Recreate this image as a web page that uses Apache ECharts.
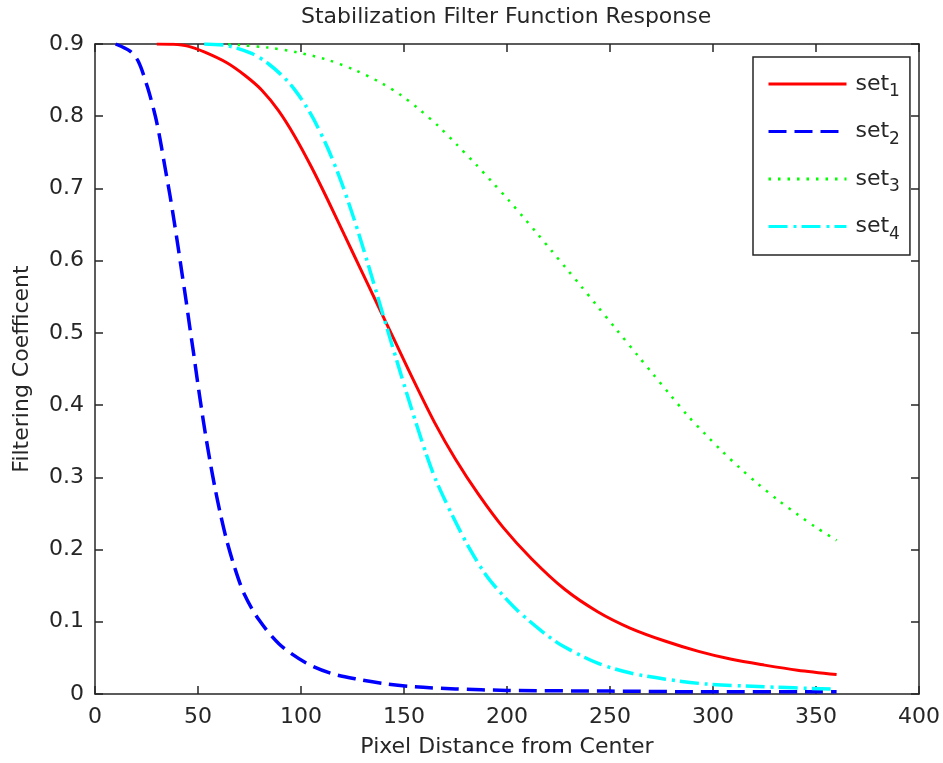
<!DOCTYPE html>
<html>
<head>
<meta charset="utf-8">
<title>Stabilization Filter Function Response</title>
<script src="https://cdn.jsdelivr.net/npm/echarts@6/dist/echarts.min.js"></script>
<style>
  html, body { margin: 0; padding: 0; background: #fff; }
  #chart { width: 943px; height: 763px; }
</style>
</head>
<body>
<div id="chart"></div>
<script>
// values
var set1X = [30, 38, 45, 53, 64, 73, 81, 89, 97, 105, 113, 121, 129, 137, 145, 154, 165, 175, 186, 198, 212, 228, 244, 260, 277, 293, 309, 325, 341, 360]
var set1Y = [0.9, 0.8995, 0.897, 0.889, 0.874, 0.856, 0.836, 0.808, 0.772, 0.73, 0.684, 0.636, 0.588, 0.54, 0.492, 0.438, 0.375, 0.325, 0.277, 0.231, 0.187, 0.145, 0.114, 0.091, 0.073, 0.059, 0.048, 0.04, 0.033, 0.027]

var set2X = [10, 17, 21, 25.5, 29.3, 31.6, 34, 36.3, 38.4, 40.6, 42.4, 44.2, 46, 47.9, 49.7, 51.6, 53.6, 55.8, 58.2, 60.9, 64, 67.8, 72.5, 79.5, 89.5, 102.5, 115.3, 128.3, 141.2, 154.9, 175, 200, 250, 300, 360]
var set2Y = [0.9, 0.89, 0.876, 0.84, 0.8, 0.768, 0.729, 0.692, 0.655, 0.614, 0.579, 0.545, 0.508, 0.471, 0.434, 0.397, 0.36, 0.323, 0.286, 0.249, 0.212, 0.175, 0.138, 0.103, 0.069, 0.043, 0.028, 0.02, 0.014, 0.01, 0.007, 0.005, 0.004, 0.003, 0.003]

var set3X = [60, 70, 84, 98, 113, 126, 139, 148.6, 157, 167, 175.7, 185, 192.6, 201, 208, 215, 221.7, 229, 236, 243, 253, 263.8, 271, 279, 288, 296, 304, 313, 322, 331.6, 341, 350, 360]
var set3Y = [0.9, 0.8985, 0.895, 0.8885, 0.878, 0.864, 0.846, 0.829, 0.8105, 0.7855, 0.7605, 0.733, 0.7095, 0.683, 0.66, 0.6365, 0.6135, 0.5885, 0.5645, 0.54, 0.505, 0.4675, 0.4425, 0.415, 0.3845, 0.3605, 0.3373, 0.313, 0.2905, 0.2684, 0.2487, 0.2307, 0.2127]

var set4X = [53, 64, 76, 84, 92, 97, 102, 106.5, 113, 119.5, 126, 132, 137, 142, 146.5, 154, 160.7, 165.5, 173, 181.5, 189.7, 196, 205.7, 220, 228, 244, 260, 277, 296, 325, 358]
var set4Y = [0.9, 0.8978, 0.887, 0.873, 0.853, 0.8365, 0.816, 0.794, 0.7556, 0.7095, 0.6555, 0.6003, 0.5523, 0.5043, 0.4616, 0.3918, 0.3329, 0.296, 0.25, 0.203, 0.165, 0.143, 0.114, 0.08, 0.065, 0.0426, 0.029, 0.0205, 0.014, 0.01, 0.0067]

var seriesNames = ['set1', 'set2', 'set3', 'set4']

var FONT = 'DejaVu Sans'
var INK = '#262626'

function pairs (xs, ys) {
  return xs.map(function (x, i) { return [x, ys[i]] })
}

function boxAxis (pos, isX) {
  // extra axis only for the ticks on the top / right side of the box
  var ax = {
    type: 'value',
    position: pos,
    axisLine: { show: true, onZero: false, lineStyle: { color: INK, width: 1.5 } },
    axisTick: { show: true, inside: true, length: 8, lineStyle: { color: INK, width: 1.5 } },
    axisLabel: { show: false },
    splitLine: { show: false }
  }
  if (isX) {
    ax.min = 0; ax.max = 400; ax.interval = 50
  } else {
    ax.min = 0; ax.max = 0.9; ax.interval = 0.1
  }
  return ax
}

var chart = echarts.init(document.getElementById('chart'))

var option = {
  animation: false,
  backgroundColor: '#fff',
  title: {
    text: 'Stabilization Filter Function Response',
    left: 301,
    top: 6,
    padding: 0,
    textStyle: { fontFamily: FONT, fontSize: 22, fontWeight: 'normal', color: INK }
  },
  grid: { left: 95, right: 22, top: 44, bottom: 68 },
  legend: {
    orient: 'vertical',
    left: 753,
    top: 57,
    padding: [16, 10, 12, 14],
    itemGap: 20,
    itemWidth: 78,
    itemHeight: 14,
    borderColor: INK,
    borderWidth: 1.5,
    backgroundColor: '#fff',
    selectedMode: false,
    data: seriesNames,
    itemStyle: { opacity: 0 },
    lineStyle: { width: 3 },
    formatter: function (name) {
      return '{a|set}{b|' + name.slice(3) + '}'
    },
    textStyle: {
      color: INK,
      fontFamily: FONT,
      rich: {
        a: { fontSize: 22, fontFamily: FONT, color: INK, padding: [0, 0, 0, 4] },
        b: { fontSize: 17, fontFamily: FONT, color: INK, padding: [16, 0, 0, 0] }
      }
    }
  },
  xAxis: [
    {
      type: 'value',
      position: 'bottom',
      min: 0,
      max: 400,
      interval: 50,
      name: 'Pixel Distance from Center',
      nameLocation: 'middle',
      nameGap: 42,
      nameTextStyle: { fontFamily: FONT, fontSize: 22, color: INK },
      axisLine: { show: true, onZero: false, lineStyle: { color: INK, width: 1.5 } },
      axisTick: { show: true, inside: true, length: 8, lineStyle: { color: INK, width: 1.5 } },
      axisLabel: { margin: 12, fontFamily: FONT, fontSize: 22, color: INK },
      splitLine: { show: false }
    },
    boxAxis('top', true)
  ],
  yAxis: [
    {
      type: 'value',
      position: 'left',
      min: 0,
      max: 0.9,
      interval: 0.1,
      name: 'Filtering Coefficent',
      nameLocation: 'middle',
      nameGap: 62,
      nameTextStyle: { fontFamily: FONT, fontSize: 22, color: INK },
      axisLine: { show: true, onZero: false, lineStyle: { color: INK, width: 1.5 } },
      axisTick: { show: true, inside: true, length: 8, lineStyle: { color: INK, width: 1.5 } },
      axisLabel: { margin: 11, fontFamily: FONT, fontSize: 22, color: INK },
      splitLine: { show: false }
    },
    boxAxis('right', false)
  ],
  series: [
    {
      name: 'set1',
      type: 'line',
      data: pairs(set1X, set1Y),
      symbol: 'none',
      smooth: 0.3,
      lineStyle: { color: '#ff0000', width: 3, type: 'solid' },
      itemStyle: { color: '#ff0000' }
    },
    {
      name: 'set2',
      type: 'line',
      data: pairs(set2X, set2Y),
      symbol: 'none',
      smooth: 0.3,
      lineStyle: { color: '#0000ff', width: 3.5, type: [18, 8] },
      itemStyle: { color: '#0000ff' }
    },
    {
      name: 'set3',
      type: 'line',
      data: pairs(set3X, set3Y),
      symbol: 'none',
      smooth: 0.3,
      lineStyle: { color: '#00ff00', width: 2.5, type: [2.5, 7] },
      itemStyle: { color: '#00ff00' }
    },
    {
      name: 'set4',
      type: 'line',
      data: pairs(set4X, set4Y),
      symbol: 'none',
      smooth: 0.3,
      lineStyle: { color: '#00ffff', width: 3.5, type: [19, 6, 3, 5] },
      itemStyle: { color: '#00ffff' }
    }
  ]
}

chart.setOption(option)
</script>
</body>
</html>
